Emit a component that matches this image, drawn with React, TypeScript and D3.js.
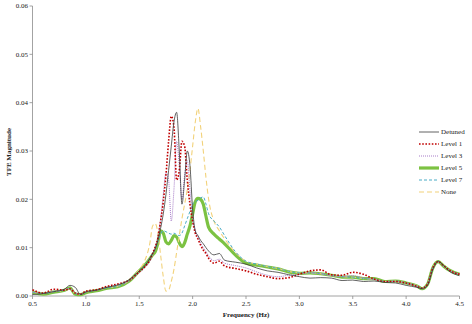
import React from 'react';
import * as d3 from 'd3';

const freq = [
  0.5, 0.6, 0.7, 0.8, 0.85, 0.9, 0.95, 1.0, 1.1, 1.2, 1.3, 1.4, 1.5, 1.55,
  1.6, 1.625, 1.65, 1.675, 1.7, 1.725, 1.75, 1.775, 1.8, 1.825,
  1.85, 1.875, 1.9, 1.925, 1.95, 1.975, 2.0, 2.025, 2.05, 2.075,
  2.1, 2.125, 2.15, 2.2, 2.25, 2.3,
  2.4, 2.5, 2.6, 2.7, 2.8, 2.9, 3.0,
  3.1, 3.2, 3.3, 3.4, 3.5, 3.6, 3.7, 3.8, 3.9, 4.0,
  4.1, 4.15, 4.2, 4.25, 4.3, 4.35, 4.4, 4.5,
];

const detuned = [
  0.0003, 0.0005, 0.0009, 0.0014, 0.0022, 0.0018, 0.0003, 0.0008, 0.0012, 0.0018, 0.0023, 0.0033, 0.0052, 0.0062,
  0.0078, 0.0088, 0.0098, 0.0115, 0.014, 0.017, 0.021, 0.026, 0.031, 0.036,
  0.038, 0.03, 0.019, 0.024, 0.03, 0.027, 0.018, 0.0135, 0.0125, 0.0115,
  0.0108, 0.01, 0.0093, 0.0085, 0.0088, 0.0074,
  0.007, 0.0066, 0.0058, 0.0052, 0.0049, 0.0044, 0.004,
  0.0037, 0.0038, 0.0037, 0.0032, 0.0033, 0.003, 0.0031, 0.0028, 0.0027, 0.0022,
  0.0018, 0.0015, 0.0022, 0.0055, 0.0072, 0.0063, 0.0052, 0.0042,
];

const level1 = [
  0.0013, 0.0006, 0.0014, 0.0012, 0.0015, 0.0006, 0.0004, 0.001, 0.0013, 0.002, 0.0025, 0.0032, 0.005, 0.006,
  0.0075, 0.0088, 0.0102, 0.012, 0.0155, 0.0195, 0.025, 0.032, 0.0372, 0.035,
  0.024, 0.026, 0.032, 0.031, 0.024, 0.019, 0.0155, 0.013, 0.0118, 0.0105,
  0.0095, 0.0088, 0.0078, 0.0068, 0.0072, 0.0062,
  0.0057, 0.0052, 0.0045, 0.004, 0.0036, 0.0038, 0.0045,
  0.0052, 0.0054, 0.0044, 0.0043, 0.0049, 0.0045, 0.0035, 0.003, 0.003, 0.0027,
  0.002, 0.0016, 0.0024, 0.0058, 0.0071, 0.0063, 0.0054, 0.0045,
];

const level3 = [
  0.0008, 0.0006, 0.001, 0.0013, 0.0016, 0.0007, 0.0004, 0.0009, 0.0012, 0.0018, 0.0023, 0.0031, 0.0048, 0.0058,
  0.0072, 0.0085, 0.01, 0.0125, 0.016, 0.021, 0.0255, 0.024, 0.0155, 0.022,
  0.032, 0.027, 0.02, 0.025, 0.028, 0.022, 0.016, 0.0135, 0.0122, 0.011,
  0.01, 0.0092, 0.0083, 0.0073, 0.0076, 0.0068,
  0.0063, 0.0058, 0.005, 0.0043, 0.004, 0.0043, 0.0045,
  0.0048, 0.0046, 0.0042, 0.004, 0.0042, 0.0038, 0.0034, 0.003, 0.003, 0.0026,
  0.002, 0.0016, 0.0024, 0.0057, 0.0071, 0.0063, 0.0054, 0.0045,
];

const level5 = [
  0.0008, 0.0004, 0.0008, 0.0012, 0.0017, 0.0004, 0.0003, 0.0007, 0.0011, 0.0016, 0.0019, 0.003, 0.0052, 0.0063,
  0.0077, 0.0085, 0.0092, 0.011, 0.0135, 0.013, 0.0112, 0.0108, 0.0115, 0.0125,
  0.0122, 0.011, 0.0102, 0.011, 0.0128, 0.0145, 0.017, 0.0195, 0.0202, 0.02,
  0.019, 0.0165, 0.0142, 0.0128, 0.0118, 0.0108,
  0.0085, 0.0068, 0.0064, 0.006, 0.0056, 0.005, 0.0047,
  0.0048, 0.0046, 0.0043, 0.0039, 0.0039, 0.0036, 0.0036, 0.003, 0.0031, 0.0027,
  0.0021, 0.0015, 0.0024, 0.0058, 0.0071, 0.0062, 0.0054, 0.0045,
];

const level7 = [
  0.0008, 0.0005, 0.0009, 0.0012, 0.0016, 0.0005, 0.0003, 0.0008, 0.0012, 0.0017, 0.002, 0.0031, 0.0052, 0.0063,
  0.0078, 0.0088, 0.0098, 0.0112, 0.0128, 0.0135, 0.0133, 0.013, 0.0128, 0.013,
  0.0127, 0.0125, 0.013, 0.0145, 0.016, 0.0175, 0.019, 0.0195, 0.0198, 0.0203,
  0.0205, 0.019, 0.017, 0.0155, 0.0143, 0.0125,
  0.0092, 0.0072, 0.0066, 0.0061, 0.0057, 0.0051, 0.0048,
  0.0048, 0.0046, 0.0043, 0.004, 0.0039, 0.0036, 0.0035, 0.003, 0.0031, 0.0027,
  0.0021, 0.0015, 0.0024, 0.0058, 0.0071, 0.0062, 0.0054, 0.0045,
];

const none = [
  0.0008, 0.0005, 0.0009, 0.0012, 0.0016, 0.0005, 0.0003, 0.0008, 0.0012, 0.0017, 0.002, 0.0031, 0.0055, 0.0072,
  0.011, 0.0145, 0.015, 0.013, 0.0085, 0.004, 0.001, 0.0012, 0.003, 0.0055,
  0.009, 0.0125, 0.016, 0.019, 0.022, 0.026, 0.031, 0.036, 0.0388, 0.035,
  0.03, 0.0245, 0.02, 0.0155, 0.0135, 0.0118,
  0.009, 0.0072, 0.0066, 0.0061, 0.0057, 0.0051, 0.0048,
  0.0048, 0.0046, 0.0043, 0.004, 0.0039, 0.0036, 0.0035, 0.003, 0.0031, 0.0027,
  0.0021, 0.0015, 0.0024, 0.0058, 0.0071, 0.0062, 0.0054, 0.0045,
];

const xTicks = [0.5, 1.0, 1.5, 2.0, 2.5, 3.0, 3.5, 4.0, 4.5];
const yTicks = [0, 0.01, 0.02, 0.03, 0.04, 0.05, 0.06];

// draw order: thick green under the thin lines
const series = [
  { name: 'Level 5', values: level5, color: '#7cc242', width: 3.2, dash: null },
  { name: 'None', values: none, color: '#f2d27a', width: 1.1, dash: '5 3' },
  { name: 'Level 7', values: level7, color: '#4bacc6', width: 1, dash: '3 2' },
  { name: 'Level 3', values: level3, color: '#a77cc8', width: 1, dash: '1 1' },
  { name: 'Level 1', values: level1, color: '#c00000', width: 1.6, dash: '1.6 1.6' },
  { name: 'Detuned', values: detuned, color: '#3a3a3a', width: 0.8, dash: null },
];
const legendOrder = ['Detuned', 'Level 1', 'Level 3', 'Level 5', 'Level 7', 'None'];

const font = '"Liberation Serif", "Times New Roman", serif';

export default function App() {
  const x = d3.scaleLinear().domain([0.5, 4.5]).range([32.5, 459.5]);
  const y = d3.scaleLinear().domain([0, 0.06]).range([296, 6]);

  const line = d3
    .line<number>()
    .x((_, i) => x(freq[i]))
    .y((d) => y(d))
    .curve(d3.curveMonotoneX);

  return (
    <svg width={472} height={324} style={{ position: 'absolute', left: 0, top: 0, background: '#fff' }} fontFamily={font}>
      {/* axes */}
      <line x1={x(0.5)} x2={x(0.5)} y1={y(0.06)} y2={y(0)} stroke="#8c8c8c" strokeWidth={0.8} />
      <line x1={x(0.5)} x2={x(4.5)} y1={y(0)} y2={y(0)} stroke="#8c8c8c" strokeWidth={0.8} />
      {yTicks.map((t) => (
        <g key={'y' + t}>
          <line x1={x(0.5) - 3} x2={x(0.5)} y1={y(t)} y2={y(t)} stroke="#8c8c8c" strokeWidth={0.8} />
          <text x={28} y={y(t)} dy="0.35em" fontSize={7} textAnchor="end" fill="#222">
            {d3.format('.2f')(t)}
          </text>
        </g>
      ))}
      {xTicks.map((t) => (
        <g key={'x' + t}>
          <line x1={x(t)} x2={x(t)} y1={y(0)} y2={y(0) + 3} stroke="#8c8c8c" strokeWidth={0.8} />
          <text x={x(t)} y={306} fontSize={7} textAnchor="middle" fill="#222">
            {d3.format('.1f')(t)}
          </text>
        </g>
      ))}
      <text x={246} y={317} fontSize={7} fontWeight="bold" textAnchor="middle" fill="#222">
        Frequency  (Hz)
      </text>
      <text transform="translate(11,152) rotate(-90)" fontSize={7} fontWeight="bold" textAnchor="middle" fill="#222">
        TFE Magnitude
      </text>

      {/* curves */}
      {series.map((s) => (
        <path
          key={s.name}
          d={line(s.values) || ''}
          fill="none"
          stroke={s.color}
          strokeWidth={s.width}
          strokeDasharray={s.dash || undefined}
          strokeLinejoin="round"
        />
      ))}

      {/* legend */}
      {legendOrder.map((name, i) => {
        const s = series.find((d) => d.name === name)!;
        const ly = 132 + i * 12;
        return (
          <g key={'lg' + name}>
            <line x1={419} x2={439} y1={ly} y2={ly} stroke={s.color} strokeWidth={s.width} strokeDasharray={s.dash || undefined} />
            <text x={441} y={ly} dy="0.35em" fontSize={7} fill="#222">
              {name}
            </text>
          </g>
        );
      })}
    </svg>
  );
}
